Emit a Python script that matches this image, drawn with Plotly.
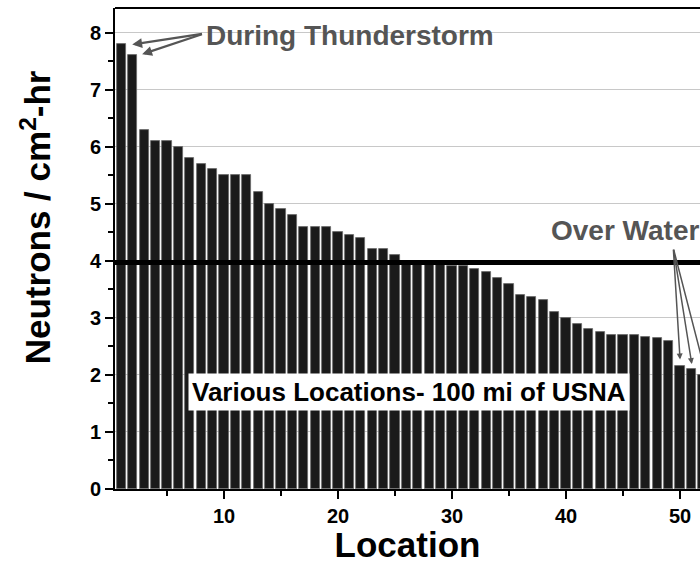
import plotly.graph_objects as go

locations = list(range(1, 53))
neutrons = [7.8, 7.6, 6.3, 6.1, 6.1, 6.0, 5.8, 5.7, 5.6, 5.5,
            5.5, 5.5, 5.2, 5.0, 4.9, 4.8, 4.6, 4.6, 4.6, 4.5,
            4.45, 4.4, 4.2, 4.2, 4.1, 4.0, 4.0, 4.0, 3.95, 3.9,
            3.9, 3.85, 3.8, 3.7, 3.6, 3.4, 3.36, 3.32, 3.1, 3.0,
            2.9, 2.8, 2.75, 2.7, 2.7, 2.7, 2.67, 2.64, 2.6, 2.15,
            2.1, 2.0]
reference_level = 3.97

FONT = "Liberation Sans"

fig = go.Figure()
fig.add_trace(go.Bar(
    x=locations, y=neutrons, width=0.8,
    marker=dict(color="#1a1a1a", line=dict(color="#6a6a6a", width=0.8)),
    showlegend=False,
))

fig.add_shape(type="line", xref="paper", x0=0, x1=1, yref="y",
              y0=reference_level, y1=reference_level,
              line=dict(color="black", width=5), layer="above")
fig.add_shape(type="line", xref="paper", x0=0, x1=1, yref="paper",
              y0=1, y1=1, line=dict(color="black", width=2), layer="above")

gray = "#555555"
# During Thunderstorm
fig.add_annotation(x=8.25, y=7.95, text="During Thunderstorm", showarrow=False,
                   xanchor="left", yanchor="middle",
                   font=dict(family=FONT, size=28, color=gray, weight="bold"))
for hx, hy in [(1.95, 7.79), (2.82, 7.62)]:
    fig.add_annotation(x=hx, y=hy, ax=8.2, ay=7.98, axref="x", ayref="y",
                       text="", showarrow=True, arrowhead=2, arrowsize=0.9,
                       arrowwidth=2.2, arrowcolor=gray)
# Over Water
fig.add_annotation(x=45.2, y=4.53, text="Over Water", showarrow=False,
                   xanchor="center", yanchor="middle",
                   font=dict(family=FONT, size=28, color=gray, weight="bold"))
for hx, hy in [(50.0, 2.27), (51.03, 2.19), (52.2, 2.06)]:
    fig.add_annotation(x=hx, y=hy, ax=49.41, ay=4.22, axref="x", ayref="y",
                       text="", showarrow=True, arrowhead=2, arrowsize=0.8,
                       arrowwidth=1.5, arrowcolor=gray)
# Various locations
fig.add_annotation(x=26.2, y=1.7, text="Various Locations- 100 mi of USNA",
                   showarrow=False, xanchor="center", yanchor="middle",
                   bgcolor="white", borderpad=3,
                   font=dict(family=FONT, size=26, color="black", weight="bold"))
# Y title
fig.add_annotation(xref="paper", yref="paper", x=-0.135, y=0.565,
                   text="Neutrons / cm<sup>2</sup>-hr", textangle=-90,
                   showarrow=False, xanchor="center", yanchor="middle",
                   font=dict(family=FONT, size=35, color="black", weight="bold"))

fig.update_layout(
    width=700, height=564,
    margin=dict(l=115, r=0, t=8, b=75),
    plot_bgcolor="white", paper_bgcolor="white",
    bargap=0,
    xaxis=dict(range=[0.44, 51.75], tickmode="linear", tick0=0, dtick=10,
               ticks="outside", ticklen=8, tickwidth=2, tickcolor="black",
               minor=dict(ticks="outside", ticklen=5, dtick=5, tick0=0,
                          tickwidth=1.5, tickcolor="black"),
               showline=True, linecolor="black", linewidth=2,
               showgrid=False, zeroline=False,
               tickfont=dict(family=FONT, size=20, color="black", weight="bold"),
               title=dict(text="Location", standoff=4,
                          font=dict(family=FONT, size=35, color="black", weight="bold"))),
    yaxis=dict(range=[0, 8.43], tickmode="linear", tick0=0, dtick=1,
               ticks="outside", ticklen=8, tickwidth=2, tickcolor="black",
               minor=dict(ticks="outside", ticklen=5, dtick=0.5, tick0=0,
                          tickwidth=1.5, tickcolor="black", showgrid=False),
               showline=True, linecolor="black", linewidth=2,
               showgrid=True, gridcolor="#c8c8c8", gridwidth=1, zeroline=False,
               tickfont=dict(family=FONT, size=20, color="black", weight="bold")),
)

fig.write_html("out.html")
